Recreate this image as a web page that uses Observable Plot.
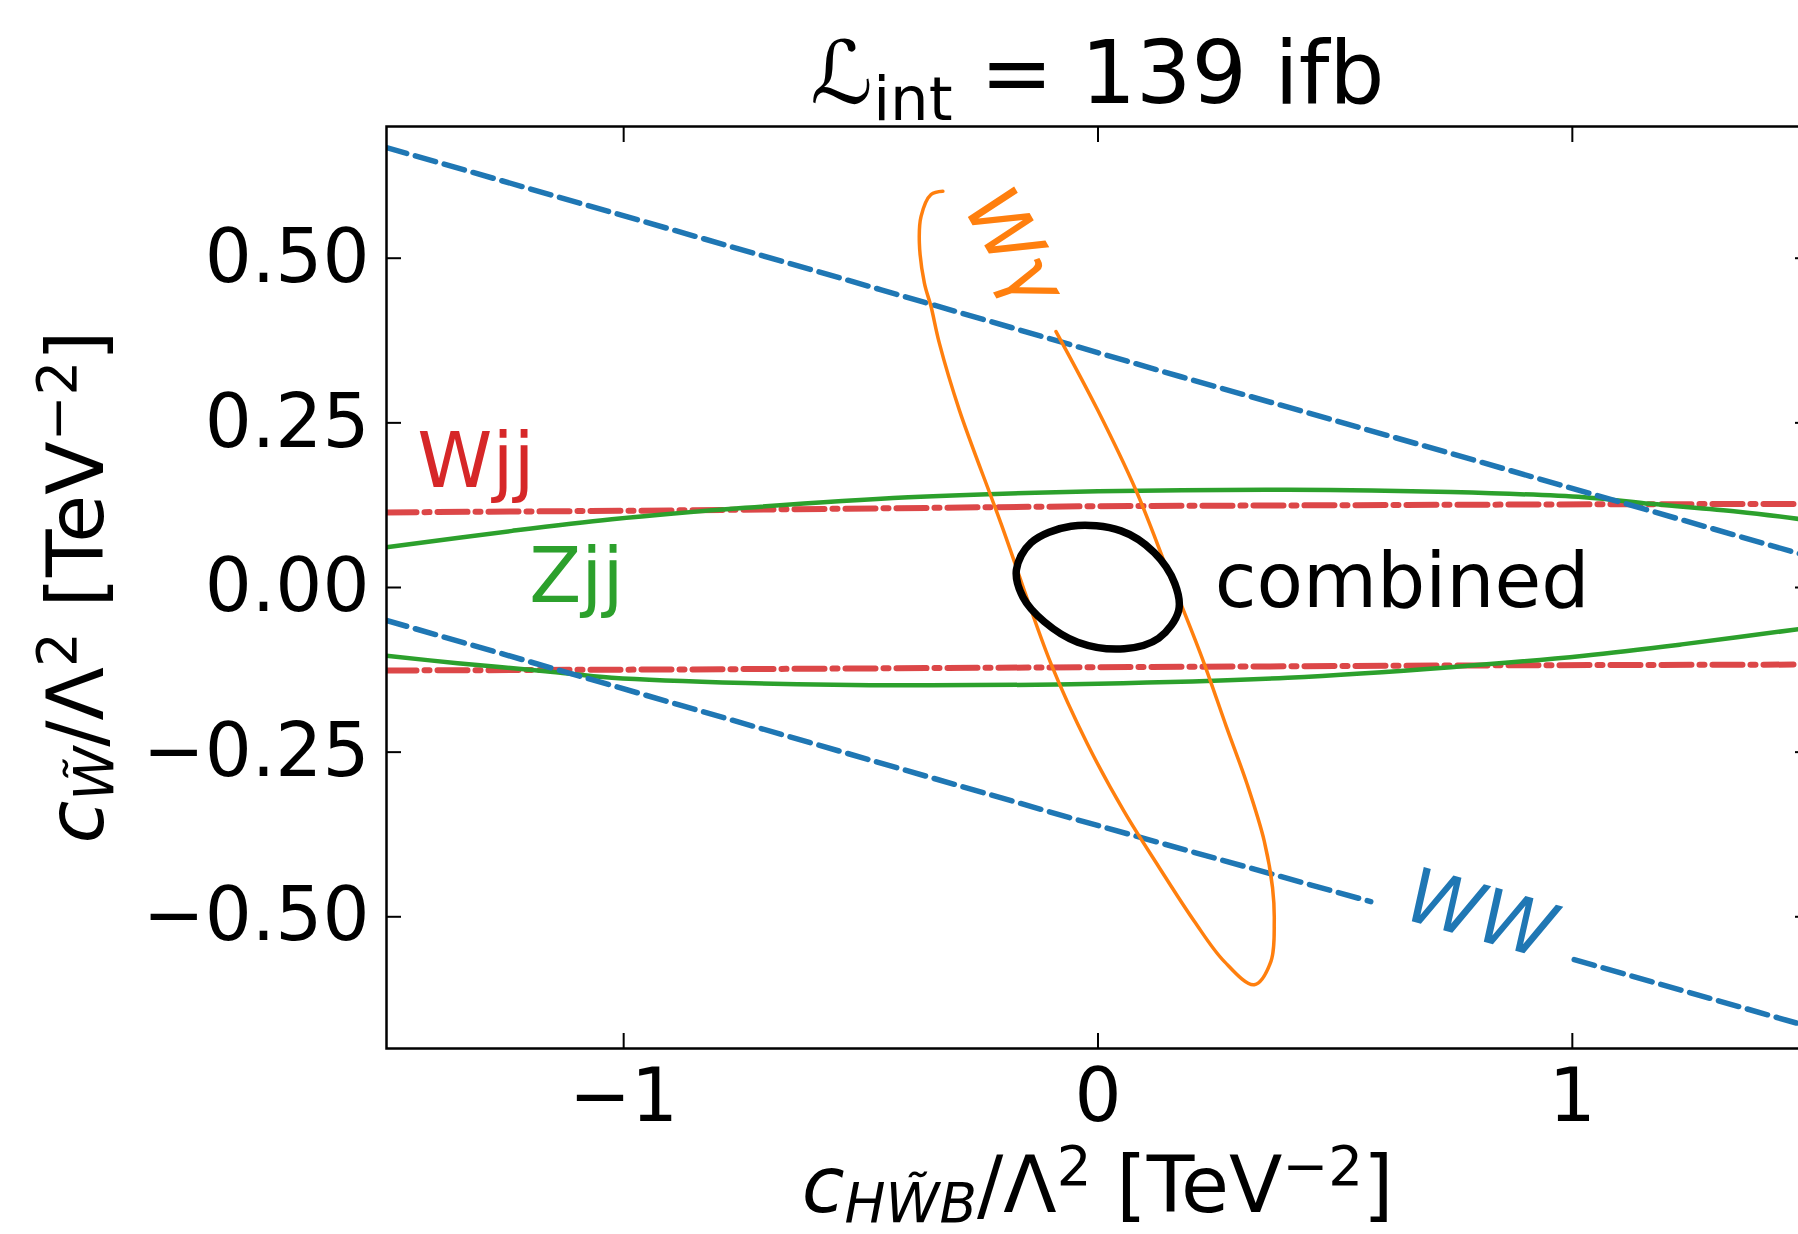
<!DOCTYPE html>
<html><head><meta charset="utf-8">
<script src="https://cdn.jsdelivr.net/npm/d3@7"></script>
<script src="https://cdn.jsdelivr.net/npm/@observablehq/plot@0.6"></script>
<style>
html,body{margin:0;padding:0;background:#fff;overflow:hidden;}
#chart svg{display:block;}
</style></head><body><div id="chart"></div>
<script>
// ---- axes ----
const xDomain = [-1.5, 1.5];
const yDomain = [-0.7, 0.7];
const xTicks = [-1, 0, 1];
const xTickLabels = ["−1", "0", "1"];
const yTicks = [-0.5, -0.25, 0, 0.25, 0.5];
const yTickLabels = ["−0.50", "−0.25", "0.00", "0.25", "0.50"];

// ---- curves [x, y] ----
const wwUpper = [[-1.5, 0.668], [-0.457, 0.452], [0.175, 0.320], [0.744, 0.2035], [1.5, 0.047]];
const wwLowerA = [[-1.5, -0.050], [-0.879, -0.179], [-0.057, -0.350], [0.575, -0.477]];
const wwLowerB = [[1.004, -0.565], [1.5, -0.667]];
const wjjUpper = [[-1.5, 0.114], [-0.9, 0.117], [0, 0.1235], [0.9, 0.126], [1.5, 0.127]];
const wjjLower = [[-1.5, -0.126], [-0.9, -0.1245], [0, -0.121], [0.9, -0.118], [1.5, -0.117]];
const zjjUpper = [[-1.5, 0.061], [-1.235, 0.086], [-1.025, 0.1035], [-0.744, 0.121], [-0.4, 0.137], [0, 0.146], [0.4, 0.1485], [0.744, 0.145], [1.025, 0.137], [1.165, 0.127], [1.35, 0.115], [1.5, 0.102]];
const zjjLower = [[-1.5, -0.1035], [-1.35, -0.115], [-1.165, -0.127], [-1.025, -0.137], [-0.744, -0.145], [-0.4, -0.1485], [0, -0.146], [0.4, -0.137], [0.744, -0.121], [1.025, -0.1035], [1.235, -0.086], [1.5, -0.061]];
const wgamma = [[-0.0885, 0.3886], [-0.0007, 0.2694], [0.080, 0.1476], [0.15, 0.02], [0.219, -0.106], [0.27, -0.21], [0.315, -0.30], [0.3505, -0.385], [0.368, -0.456], [0.3716, -0.5068], [0.3646, -0.5677], [0.3294, -0.6032], [0.266, -0.5677], [0.203, -0.5068], [0.128, -0.4240], [0.055, -0.3400], [-0.022, -0.238], [-0.099, -0.116], [-0.2044, 0.097], [-0.2923, 0.2694], [-0.3345, 0.371], [-0.352, 0.4266], [-0.366, 0.4622], [-0.3766, 0.5231], [-0.373, 0.5636], [-0.352, 0.5967], [-0.327, 0.6017]];
const combined = [[-0.0569, 0.0930], [-0.1412, 0.0680], [-0.1720, 0.0270], [-0.1580, -0.0150], [-0.1132, -0.0520], [-0.0428, -0.0830], [0.0554, -0.0930], [0.1280, -0.0770], [0.1700, -0.0350], [0.1620, 0.0060], [0.1187, 0.0530], [0.0485, 0.0860]];

// ---- curve labels ----
const labelText = ["Wjj", "Zjj", "combined", "Wγ", "WW"];
const labelX = [-1.435, -1.199, 0.246, -0.178, 0.806];
const labelY = [0.152, -0.0223, -0.0289, 0.516, -0.498];
const labelRotate = [0, 0, 0, 60, 16];

const C = {ww: "#1f77b4", wg: "#ff7f0e", zjj: "#2ca02c", wjj: "#d62728", comb: "#000000"};
const labelColor = [C.wjj, C.zjj, C.comb, C.wg, C.ww];

const FS = 74, LFS = 76, AFS = 78;
const lineOpts = (stroke, w, extra = {}) => ({x: d => d[0], y: d => d[1], stroke, strokeWidth: w, curve: "catmull-rom", clip: true, ...extra});
const fmt = (ticks, labels) => d => labels[ticks.indexOf(d)];

const uprightLabel = i => Plot.text([labelText[i]], {x: () => labelX[i], y: () => labelY[i], text: d => d, fill: labelColor[i], textAnchor: "start", lineAnchor: "bottom", fontSize: LFS});
const rotLabel = i => Plot.text([labelText[i]], {x: () => labelX[i], y: () => labelY[i], text: d => d, fill: labelColor[i], textAnchor: "middle", lineAnchor: "middle", rotate: labelRotate[i], fontStyle: "italic", fontSize: LFS});

const chart = Plot.plot({
  width: 1820, height: 1234,
  marginLeft: 386, marginRight: 11, marginTop: 126, marginBottom: 186,
  style: {fontFamily: "DejaVu Sans", fontSize: FS + "px", background: "white", maxWidth: "none", color: "black"},
  x: {domain: xDomain},
  y: {domain: yDomain},
  marks: [
    Plot.line(wjjUpper, lineOpts(C.wjj, 6, {strokeDasharray: "30,8,5,8", strokeOpacity: 0.85, curve: "linear"})),
    Plot.line(wjjLower, lineOpts(C.wjj, 6, {strokeDasharray: "30,8,5,8", strokeOpacity: 0.85, curve: "linear"})),
    Plot.line(zjjUpper, lineOpts(C.zjj, 4.5)),
    Plot.line(zjjLower, lineOpts(C.zjj, 4.5)),
    Plot.line(wwUpper, lineOpts(C.ww, 5.5, {strokeDasharray: "21,9", curve: "linear"})),
    Plot.line(wwLowerA, lineOpts(C.ww, 5.5, {strokeDasharray: "21,9", curve: "linear"})),
    Plot.line(wwLowerB, lineOpts(C.ww, 5.5, {strokeDasharray: "21,9", curve: "linear"})),
    Plot.line(wgamma, lineOpts(C.wg, 3.5)),
    Plot.line(combined, lineOpts(C.comb, 7.5, {curve: "catmull-rom-closed"})),
    uprightLabel(0), uprightLabel(1), uprightLabel(2), rotLabel(3), rotLabel(4),
    Plot.axisX({anchor: "bottom", ticks: xTicks, tickSize: 0, tickPadding: 20, tickFormat: fmt(xTicks, xTickLabels), label: null, fontSize: FS}),
    Plot.axisY({anchor: "left", ticks: yTicks, tickSize: 0, tickPadding: 17, tickFormat: fmt(yTicks, yTickLabels), label: null, fontSize: FS}),
    Plot.axisX({anchor: "bottom", ticks: xTicks, tickSize: -15, strokeWidth: 2, fill: "none", label: null}),
    Plot.axisX({anchor: "top", ticks: xTicks, tickSize: -15, strokeWidth: 2, fill: "none", label: null}),
    Plot.axisY({anchor: "left", ticks: yTicks, tickSize: -15, strokeWidth: 2, fill: "none", label: null}),
    Plot.axisY({anchor: "right", ticks: yTicks, tickSize: -15, strokeWidth: 2, fill: "none", label: null}),
    Plot.frame({stroke: "black", strokeWidth: 2.5})
  ]
});
document.getElementById("chart").appendChild(chart);

// ---- title and axis titles with sub/superscripts ----
const svg = d3.select(chart);
const sx = chart.scale("x"), sy = chart.scale("y");
const cx = (sx.range[0] + sx.range[1]) / 2;
const cy = (sy.range[0] + sy.range[1]) / 2;

function rich(parent, parts, base, opts = {}) {
  const t = parent.append("text")
    .attr("text-anchor", "middle")
    .attr("font-family", "DejaVu Sans")
    .attr("font-size", base)
    .attr("fill", "black")
    .style("white-space", "pre");
  let cur = 0;
  const subShift = opts.sub ?? 0.13, supShift = opts.sup ?? 0.34;
  for (const p of parts) {
    const target = p.pos === "sub" ? base * subShift : p.pos === "sup" ? -base * supShift : 0;
    const s = t.append("tspan").text(p.t)
      .attr("font-size", p.pos ? base * 0.7 : (p.size || base))
      .attr("font-style", p.i ? "italic" : "normal");
    if (target !== cur) s.attr("dy", target - cur);
    cur = target;
  }
  return t;
}

rich(svg, [{t: "ℒ"}, {t: "int", pos: "sub"}, {t: " = 139 ifb"}], 87, {sub: 0.19})
  .attr("x", cx).attr("y", sy.range[1] - 23);

const axisParts = sub => [
  {t: "c", i: true}, {t: sub, i: true, pos: "sub"}, {t: "/Λ"}, {t: "2", pos: "sup"},
  {t: " [TeV"}, {t: "−2", pos: "sup"}, {t: "]"}
];
rich(svg, axisParts("HW\u0303B"), AFS).attr("x", cx).attr("y", 1212);
rich(svg, axisParts("W\u0303"), AFS).attr("transform", `translate(103,${cy}) rotate(-90)`);
</script></body></html>
